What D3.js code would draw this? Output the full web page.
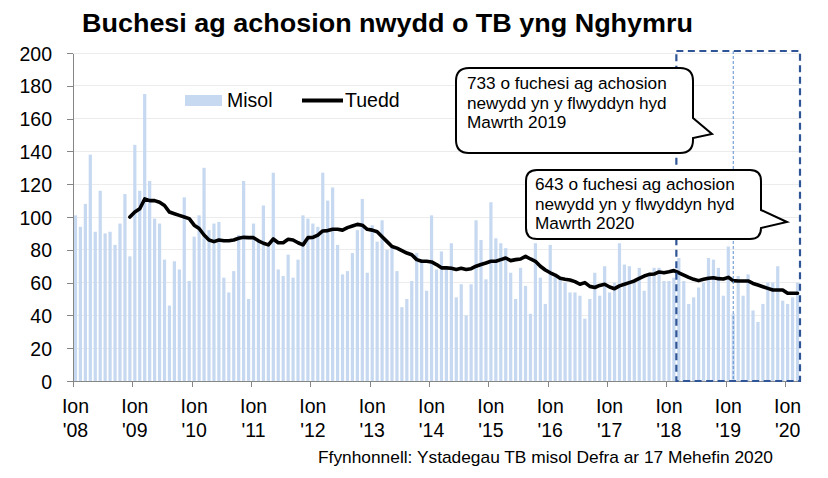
<!DOCTYPE html>
<html lang="cy">
<head>
    <meta charset="UTF-8">
    <title>Buchesi ag achosion nwydd o TB yng Nghymru</title>
    <style>
        body { margin: 0; background: #fff; }
        svg { display: block; font-family: "Liberation Sans", Arial, sans-serif; }
        .axis path,
        .axis line {
            fill: none;
            stroke: #868686;
            shape-rendering: crispEdges;
        }
        .axis text { font-size: 19.5px; fill: #000; }
        .grid line { stroke: #ececec; shape-rendering: crispEdges; }
        .callout path { fill: #fff; stroke: #000; stroke-width: 2; }
        .callout text { font-size: 17.2px; fill: #000; }
    </style>
</head>
<body>
    <svg width="828" height="478"></svg>
    <script src="https://d3js.org/d3.v7.min.js"></script>
    <script>
        // Monthly herds with new TB incidents, Jan 2008 - Mar 2020
        const monthly = [
            101, 94, 108, 138, 91, 116, 90, 91, 83, 96, 114, 76,    // 2008
            144, 116, 175, 122, 99, 96, 74, 46, 73, 68, 112, 61,    // 2009
            88, 101, 130, 92, 96, 97, 63, 54, 67, 89, 122, 50,      // 2010
            96, 85, 107, 83, 127, 68, 64, 77, 63, 74, 101, 99,      // 2011
            96, 94, 127, 110, 118, 83, 65, 67, 78, 92, 111, 66,     // 2012
            95, 85, 98, 80, 82, 67, 45, 50, 61, 78, 74, 55,         // 2013
            101, 68, 79, 69, 84, 51, 59, 40, 59, 98, 86, 62,        // 2014
            109, 87, 84, 81, 66, 50, 69, 58, 41, 84, 63, 47,        // 2015
            83, 65, 62, 60, 54, 54, 52, 38, 50, 66, 52, 70,         // 2016
            54, 60, 84, 71, 70, 60, 69, 55, 66, 69, 69, 61,         // 2017
            61, 63, 75, 61, 47, 51, 57, 60, 75, 74, 69, 52,         // 2018
            82, 41, 64, 52, 65, 43, 36, 47, 60, 60, 70, 49,         // 2019
            47, 51, 60                                              // 2020
        ];

        // Trend (12 month), starts Dec 2008
        const trendStart = 11;
        const trend = [
            100,
            103, 105, 111, 110, 110, 109, 107, 103, 102, 101, 100, 99,
            95, 93, 89, 86, 85, 86, 85.5, 85.5, 86, 87, 87.6, 87.4,
            87.4, 85.5, 84, 83, 86.6, 84.3, 84.3, 86.4, 86, 84.3, 83, 87.4,
            87.6, 89, 91.5, 91.7, 92.5, 92.5, 92, 93.5, 94.5, 95.5, 95, 92.5,
            92, 91, 88, 85, 82, 81, 79.5, 78, 77, 74, 73, 73,
            72.6, 71, 69, 69, 68.7, 68, 68.7, 68, 68.5, 70, 71, 72,
            73, 73, 74, 75, 73.4, 74, 74.4, 76, 74.4, 73, 70, 67.7,
            66, 64.6, 62.6, 62, 61.6, 60.6, 59, 60, 57.7, 57, 58.3, 59,
            57.3, 56.3, 58, 59, 60, 61, 62.6, 64, 65, 65.2, 66.5, 66,
            66.6, 67.3, 66, 64.6, 63.2, 62, 61.2, 62, 62.6, 63, 62.4, 62.2,
            63.2, 61.2, 61, 61, 61, 59.5, 58.5, 57.5, 56.5, 55.5, 55.5, 55.5,
            53.5, 53.5, 53.5
        ];

        const yTicks = [0, 20, 40, 60, 80, 100, 120, 140, 160, 180, 200];
        const monthLabel = "Ion";
        const yearLabels = ["'08", "'09", "'10", "'11", "'12", "'13", "'14",
                            "'15", "'16", "'17", "'18", "'19", "'20"];
        const legendLabels = ["Misol", "Tuedd"];
        const noteLines = [
            ["733 o fuchesi ag achosion", "newydd yn y flwyddyn hyd", "Mawrth 2019"],
            ["643 o fuchesi ag achosion", "newydd yn y flwyddyn hyd", "Mawrth 2020"]
        ];
        const title = "Buchesi ag achosion nwydd o TB yng Nghymru";
        const source = "Ffynhonnell: Ystadegau TB misol Defra ar 17 Mehefin 2020";

        const barColor = "#c6d9f1";

        const margin = {top: 53, right: 28, bottom: 97, left: 73},
            width = 828 - margin.left - margin.right,
            height = 478 - margin.top - margin.bottom;

        const svg = d3.select("svg");
        const g = svg.append("g")
            .attr("transform", "translate(" + margin.left + "," + margin.top + ")");

        // one band per month
        const months = d3.timeMonth.range(new Date(2008, 0, 1), new Date(2008, monthly.length, 1));

        const x = d3.scaleBand()
            .domain(months)
            .range([0, width])
            .paddingInner(0.35)
            .paddingOuter(0.175);
        // month index -> position, for tick marks between bands
        const xPos = d3.scaleLinear()
            .domain([0, months.length])
            .range([0, width]);
        const y = d3.scaleLinear()
            .domain([0, 200])
            .range([height, 0]);

        // gridlines
        g.append("g")
            .attr("class", "grid")
            .selectAll("line")
            .data(yTicks.filter(d => d > 0))
            .join("line")
            .attr("x1", 0)
            .attr("x2", width)
            .attr("y1", d => y(d))
            .attr("y2", d => y(d));

        // bars
        g.append("g")
            .selectAll("rect")
            .data(monthly)
            .join("rect")
            .attr("x", (d, i) => x(months[i]))
            .attr("y", d => y(d))
            .attr("width", x.bandwidth())
            .attr("height", d => height - y(d))
            .attr("fill", barColor);

        // y axis
        const yAxis = g.append("g")
            .attr("class", "axis")
            .call(d3.axisLeft(y).tickValues(yTicks).tickSize(6).tickSizeOuter(0).tickPadding(15));
        yAxis.selectAll("text").attr("dy", "0.36em");

        // x axis: tick marks at year boundaries
        g.append("g")
            .attr("class", "axis")
            .attr("transform", "translate(0," + height + ")")
            .call(d3.axisBottom(xPos)
                .tickValues(d3.range(0, months.length, 12))
                .tickSize(6)
                .tickSizeOuter(0)
                .tickFormat(""));

        // x labels centred on each January
        const jans = months.filter(d => d.getMonth() === 0);
        const xLab = g.append("g")
            .attr("class", "axis")
            .attr("transform", "translate(0," + height + ")")
            .call(d3.axisBottom(x).tickValues(jans).tickSize(0));
        xLab.select(".domain").remove();
        xLab.selectAll("text")
            .attr("y", 0)
            .attr("dy", null)
            .text(null)
            .each(function(d, i) {
                const t = d3.select(this);
                t.append("tspan").attr("x", 0).attr("y", 32).text(monthLabel);
                t.append("tspan").attr("x", 0).attr("y", 56).text(yearLabels[i]);
            });

        // trend line
        const line = d3.line()
            .x((d, i) => x(months[i + trendStart]) + x.bandwidth() / 2)
            .y(d => y(d));
        g.append("path")
            .datum(trend)
            .attr("fill", "none")
            .attr("stroke", "#000")
            .attr("stroke-width", 3.6)
            .attr("stroke-linejoin", "round")
            .attr("stroke-linecap", "round")
            .attr("d", line);

        // highlighted period box
        g.append("rect")
            .attr("x", xPos(122))
            .attr("y", y(200) - 2)
            .attr("width", xPos(months.length) - xPos(122))
            .attr("height", height - y(200) + 2)
            .attr("fill", "none")
            .attr("stroke", "#2f5597")
            .attr("stroke-width", 2.2)
            .attr("stroke-dasharray", "7,4.5");
        g.append("line")
            .attr("x1", xPos(133.5))
            .attr("x2", xPos(133.5))
            .attr("y1", y(200) - 2)
            .attr("y2", height)
            .attr("stroke", "#5b8fd0")
            .attr("stroke-width", 1)
            .attr("stroke-dasharray", "3,2");

        // callouts
        function bubble(x0, y0, x1, y1, r, tTop, tBot, tipX, tipY) {
            return "M" + (x0 + r) + "," + y0 +
                "H" + (x1 - r) + "Q" + x1 + "," + y0 + " " + x1 + "," + (y0 + r) +
                "V" + tTop + "L" + tipX + "," + tipY + "L" + x1 + "," + tBot +
                "V" + (y1 - r) + "Q" + x1 + "," + y1 + " " + (x1 - r) + "," + y1 +
                "H" + (x0 + r) + "Q" + x0 + "," + y1 + " " + x0 + "," + (y1 - r) +
                "V" + (y0 + r) + "Q" + x0 + "," + y0 + " " + (x0 + r) + "," + y0 + "Z";
        }
        const bubbles = [
            {path: bubble(456, 68, 693, 153, 13, 118, 138, 712, 134), tx: 467, ty: 89},
            {path: bubble(526, 170, 761, 239, 11, 210, 228, 787, 222), tx: 535, ty: 190}
        ];
        bubbles.forEach(function(b, k) {
            const c = svg.append("g").attr("class", "callout");
            c.append("path").attr("d", b.path);
            const t = c.append("text");
            noteLines[k].forEach(function(s, j) {
                t.append("tspan").attr("x", b.tx).attr("y", b.ty + j * 19.5).text(s);
            });
        });

        // legend
        const legend = svg.append("g").attr("font-size", "19.5px");
        legend.append("rect")
            .attr("x", 185).attr("y", 95)
            .attr("width", 37).attr("height", 11)
            .attr("fill", barColor);
        legend.append("text").attr("x", 227).attr("y", 107).text(legendLabels[0]);
        legend.append("line")
            .attr("x1", 302).attr("x2", 343)
            .attr("y1", 100.5).attr("y2", 100.5)
            .attr("stroke", "#000").attr("stroke-width", 4);
        legend.append("text").attr("x", 345).attr("y", 107).text(legendLabels[1]);

        // title and source
        svg.append("text")
            .attr("x", 82).attr("y", 32)
            .attr("font-size", "25px")
            .attr("font-weight", "bold")
            .attr("textLength", 611)
            .attr("lengthAdjust", "spacingAndGlyphs")
            .text(title);
        svg.append("text")
            .attr("x", 318).attr("y", 462.5)
            .attr("font-size", "17px")
            .attr("textLength", 455)
            .attr("lengthAdjust", "spacingAndGlyphs")
            .text(source);
    </script>
</body>
</html>
